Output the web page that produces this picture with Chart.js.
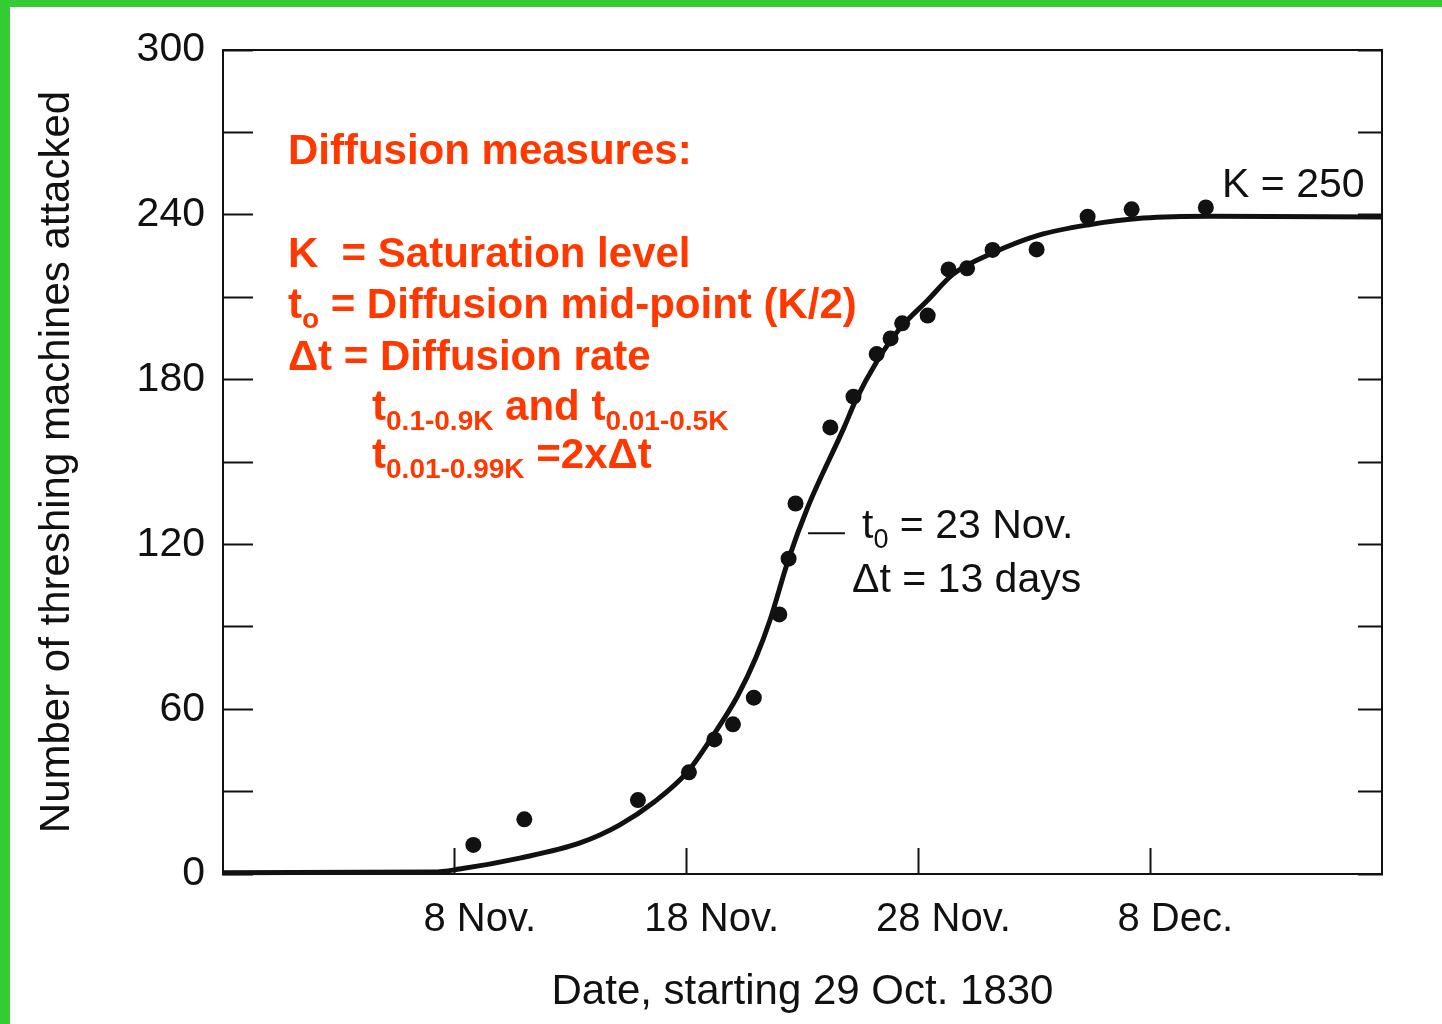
<!DOCTYPE html>
<html>
<head>
<meta charset="utf-8">
<title>Threshing machines attacked, 1830</title>
<script src="https://cdn.jsdelivr.net/npm/chart.js@4.4.1/dist/chart.umd.min.js"></script>
<style>
  html, body { margin: 0; padding: 0; background: #fff; }
  #wrap { position: relative; width: 1442px; height: 1024px; overflow: hidden; background: #fff; }
  #chart { position: absolute; left: 0; top: 0; }
  .edge { position: absolute; background: #33cc33; z-index: 2; }
</style>
</head>
<body>
<div id="wrap">
  <canvas id="chart" width="1442" height="1024"></canvas>
  <div class="edge" style="left:0;top:0;width:10px;height:1024px"></div>
  <div class="edge" style="left:0;top:0;width:1442px;height:7px"></div>
</div>
<script>
'use strict'

// days after 29 Oct 1830, machines attacked (observed dots)
const obsDays = [10.8, 13.0, 17.9, 20.1, 21.2, 22.0, 22.9, 24.0, 24.4, 24.7, 26.2, 27.2,
  28.2, 28.8, 29.3, 30.4, 31.3, 32.1, 33.2, 35.1, 37.3, 39.2, 42.4]
const obsCounts = [10.6, 19.9, 26.9, 37.0, 49.0, 54.5, 64.2, 94.5, 114.8, 134.9, 162.6, 173.8,
  189.3, 195.0, 200.5, 203.3, 220.1, 220.5, 227.2, 227.4, 239.3, 242.0, 242.7]

// fitted logistic curve
const fitDays = [0, 9.1, 10.2, 12.8, 15.4, 17.1, 18.6, 20.0, 21.1, 22.2, 23.0, 23.6, 24.4,
  25.2, 26.8, 27.3, 28.2, 29.2, 30.4, 31.5, 33.2, 35.2, 37.3, 39.7, 42.6, 50]
const fitCounts = [0.5, 0.7, 1.8, 5.8, 11.3, 17.8, 26.2, 36.8, 49.9, 64.8, 79.0, 92.5, 114.7,
  133.0, 162.7, 172.5, 186.5, 198.6, 208.9, 218.4, 226.1, 232.6, 236.3, 238.8, 239.5, 239.2]

const xTicks = [10, 20, 30, 40]
const xLabels = ['8 Nov.', '18 Nov.', '28 Nov.', '8 Dec.']
const yTicks = [0, 30, 60, 90, 120, 150, 180, 210, 240, 270, 300]
const yLabelled = [0, 60, 120, 180, 240, 300]

const FONT = "'Liberation Sans', Arial, Helvetica, sans-serif"
const INK = '#111'
const RED = '#ff3800'

// text notes, anchored in data units (day, count)
const notes = [
  { day: 2.8, value: 258.5, color: RED, weight: 'bold', size: 42, parts: [['Diffusion measures:']] },
  { day: 2.8, value: 221.0, color: RED, weight: 'bold', size: 42, parts: [['K  = Saturation level']] },
  { day: 2.8, value: 202.4, color: RED, weight: 'bold', size: 42,
    parts: [['t'], ['o', 1], [' = Diffusion mid-point (K/2)']] },
  { day: 2.8, value: 183.5, color: RED, weight: 'bold', size: 42, parts: [['\u0394t = Diffusion rate']] },
  { day: 6.43, value: 165.3, color: RED, weight: 'bold', size: 42,
    parts: [['t'], ['0.1-0.9K', 1], [' and t'], ['0.01-0.5K', 1]] },
  { day: 6.43, value: 147.8, color: RED, weight: 'bold', size: 42,
    parts: [['t'], ['0.01-0.99K', 1], [' =2x\u0394t']] },
  { day: 43.1, value: 246.4, color: INK, weight: 'normal', size: 41, parts: [['K = 250']] },
  { day: 27.57, value: 122.3, color: INK, weight: 'normal', size: 41,
    parts: [['t'], ['0', 1], [' = 23 Nov.']] },
  { day: 27.14, value: 102.7, color: INK, weight: 'normal', size: 41, parts: [['\u0394t = 13 days']] }
]
const leader = { from: 25.24, to: 26.83, value: 124.1 }

const notePlugin = {
  id: 'notes',
  afterDraw(chart) {
    const { ctx, scales: { x, y } } = chart
    ctx.save()
    ctx.textAlign = 'left'
    ctx.textBaseline = 'alphabetic'
    notes.forEach(n => {
      let px = x.getPixelForValue(n.day)
      const py = y.getPixelForValue(n.value)
      ctx.fillStyle = n.color
      n.parts.forEach(([text, sub]) => {
        const size = sub ? Math.round(n.size * 0.67) : n.size
        ctx.font = `${n.weight} ${size}px ${FONT}`
        ctx.fillText(text, px, py + (sub ? n.size * 0.23 : 0))
        px += ctx.measureText(text).width
      })
    })
    // short leader from the curve to the t0 note
    ctx.strokeStyle = INK
    ctx.lineWidth = 2
    ctx.beginPath()
    ctx.moveTo(x.getPixelForValue(leader.from), y.getPixelForValue(leader.value))
    ctx.lineTo(x.getPixelForValue(leader.to), y.getPixelForValue(leader.value))
    ctx.stroke()
    ctx.restore()
  }
}

const fixTicks = list => scale => { scale.ticks = list.map(v => ({ value: v })) }

// fixed box sizes; drop the label overflow padding so the plot frame sits where it should
const sideWidth = w => s => { s.width = w; s.paddingTop = 0; s.paddingBottom = 0 }

const chart = new Chart(document.getElementById('chart'), {
  type: 'scatter',
  data: {
    datasets: [
      {
        label: 'fit',
        data: fitDays.map((d, i) => ({ x: d, y: fitCounts[i] })),
        showLine: true,
        borderColor: INK,
        borderWidth: 5,
        pointRadius: 0,
        cubicInterpolationMode: 'monotone',
        clip: false
      },
      {
        label: 'attacks',
        data: obsDays.map((d, i) => ({ x: d, y: obsCounts[i] })),
        backgroundColor: INK,
        borderWidth: 0,
        pointRadius: 8,
        clip: false
      }
    ]
  },
  options: {
    responsive: false,
    animation: false,
    layout: { padding: { top: 50, left: 0, right: 0, bottom: 0 } },
    plugins: { legend: { display: false }, tooltip: { enabled: false } },
    scales: {
      x: {
        type: 'linear', position: 'bottom', min: 0, max: 50,
        afterBuildTicks: fixTicks(xTicks),
        afterFit: s => { s.height = 150; s.paddingLeft = 0; s.paddingRight = 0 },
        ticks: {
          callback: v => xLabels[xTicks.indexOf(v)] || '',
          font: { family: FONT, size: 40 }, color: INK,
          padding: 48, labelOffset: 25, maxRotation: 0, autoSkip: false
        },
        grid: { drawOnChartArea: false, tickLength: -26, tickWidth: 2, color: INK },
        border: { color: INK, width: 2 },
        title: {
          display: true, text: 'Date, starting 29 Oct. 1830',
          font: { family: FONT, size: 42 }, color: INK, padding: { top: 0, bottom: 6 }
        }
      },
      xTop: {
        type: 'linear', position: 'top', min: 0, max: 50,
        afterFit: s => { s.height = 0; s.paddingLeft = 0; s.paddingRight = 0 },
        ticks: { display: false },
        grid: { display: false },
        border: { color: INK, width: 2 }
      },
      y: {
        type: 'linear', position: 'left', min: 0, max: 300,
        afterBuildTicks: fixTicks(yTicks),
        afterFit: sideWidth(223),
        ticks: {
          callback: v => yLabelled.includes(v) ? String(v) : '',
          font: { family: FONT, size: 41 }, color: INK, padding: 48, autoSkip: false
        },
        grid: { drawOnChartArea: false, tickLength: -30, tickWidth: 2, color: INK },
        border: { color: INK, width: 2 },
        title: {
          display: true, text: 'Number of threshing machines attacked',
          font: { family: FONT, size: 42 }, color: INK, padding: { top: 32, bottom: 0 }
        }
      },
      yRight: {
        type: 'linear', position: 'right', min: 0, max: 300,
        afterBuildTicks: fixTicks(yTicks),
        afterFit: sideWidth(60),
        ticks: { display: false },
        grid: { drawOnChartArea: false, tickLength: -24, tickWidth: 2, color: INK },
        border: { color: INK, width: 2 }
      }
    }
  },
  plugins: [notePlugin]
})
</script>
</body>
</html>
